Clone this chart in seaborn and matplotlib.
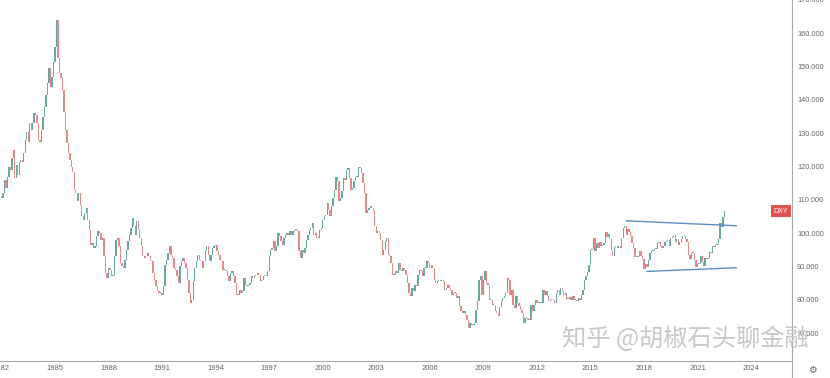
import numpy as np
import pandas as pd
import matplotlib
matplotlib.use("Agg")
import matplotlib.pyplot as plt
import matplotlib.transforms as mtransforms
from matplotlib.lines import Line2D
import seaborn as sns

# ---------------- data (monthly closes of the US Dollar Index) ----------------
start_year = 1982
dxy_close = [
    110.5, 112, 116, 113.5, 117, 120, 119, 122.5, 125, 116.5, 120.5, 117.5,      # 1982
    121, 122, 121.5, 124, 128, 130.5, 127.5, 133, 131, 133, 136, 135.5,          # 1983
    133, 128, 127.5, 131, 135, 138, 141.5, 145, 149.5, 144, 147, 151.5,          # 1984
    156, 164, 152.5, 148, 146.5, 143, 136.5, 131, 127, 124, 122, 120,            # 1985
    118.5, 113, 112, 109.5, 112, 108.5, 105, 104, 106, 107.5, 104, 101,          # 1986
    96.5, 97, 95.5, 96, 99, 100.5, 100, 98, 98.5, 93, 88, 86.5,                  # 1987
    89.5, 89, 87, 87.5, 93, 98, 98.5, 96, 91, 90, 89.5, 92,                      # 1988
    95, 97.5, 99.5, 101.5, 104.5, 102, 99.5, 103.5, 101, 98.5, 96, 93,           # 1989
    92.5, 93, 94, 93, 92, 91.5, 88, 86, 84, 82.5, 82, 82,                        # 1990
    81.5, 84, 90.5, 92, 94, 96, 93.5, 92.5, 89.5, 89, 87, 85,                    # 1991
    90, 91.5, 92.5, 91, 89.5, 86, 82, 79, 80, 85.5, 89.5, 91.5,                  # 1992
    93.5, 92, 91.5, 89.5, 91.5, 94.5, 96, 93.5, 91.5, 93.5, 95.5, 96,            # 1993
    96.5, 94.5, 93.5, 92, 91.5, 89, 89, 88.5, 87, 85.5, 88, 88.5,                # 1994
    87, 85, 81.5, 81.5, 83, 82, 82.5, 86.5, 84.5, 84, 84.5, 85,                  # 1995
    87, 86.5, 87, 87.5, 88, 87.5, 85.5, 86, 87, 87.5, 87, 88.5,                  # 1996
    93, 95, 95.5, 97.5, 94.5, 96, 100, 99, 97.5, 96.5, 98.5, 99.5,               # 1997
    100, 99.5, 100.5, 99.5, 100.5, 101, 101, 100.5, 94.5, 92.5, 95, 94,          # 1998
    95.5, 98, 99.5, 101, 101.5, 103, 99.5, 100, 98.5, 98.5, 101, 101.5,          # 1999
    104, 105, 105.5, 109, 107, 105, 108, 110.5, 113, 117, 115.5, 109.5,          # 2000
    110.5, 112.5, 116.5, 116, 119, 119.5, 116.5, 113, 113.5, 115.5, 117, 117,    # 2001
    120, 119.5, 118, 115, 112, 106, 107, 107.5, 108, 107.5, 106.5, 102,          # 2002
    100, 100.5, 100, 98, 93.5, 95, 97.5, 98.5, 93.5, 93, 91, 87.5,               # 2003
    87.5, 88.5, 88, 91, 89, 88.5, 89.5, 89, 87.5, 85, 82, 81,                    # 2004
    83.5, 82.5, 84.5, 84, 87.5, 89, 88.5, 87, 89.5, 89.5, 91.5, 91,              # 2005
    89.5, 90.5, 89.5, 86, 85, 85.5, 85.5, 85.5, 86, 85.5, 83, 83.5,              # 2006
    84.5, 83.5, 83, 81.5, 82, 82, 80.5, 81, 78, 76.5, 76, 76.5,                  # 2007
    75.5, 74, 71.5, 73, 72.5, 72.5, 73, 77, 79.5, 86, 87, 81.5,                  # 2008
    86, 88.5, 85, 84.5, 80, 80, 78.5, 78.5, 76.5, 76, 75, 77.9,                  # 2009
    79.5, 80.5, 81, 82, 86.5, 86, 81.5, 83, 78.5, 77.5, 81, 79,                  # 2010
    78, 77, 76, 73, 74.5, 74.5, 74, 74, 78.5, 76.5, 78.5, 80,                    # 2011
    79, 79, 79, 79, 83, 81.5, 82.5, 81, 79.5, 80, 80, 79.8,                      # 2012
    79, 82, 83, 81.5, 83.5, 83, 81.5, 82, 80.2, 80.2, 80.7, 80,                  # 2013
    81.2, 80, 80, 79.5, 80.4, 79.8, 81.5, 82.8, 86, 87, 88.4, 90.3,              # 2014
    94.8, 95.3, 98.4, 94.6, 96.9, 95.5, 97.3, 96, 96.3, 97, 100.2, 98.7,         # 2015
    99.6, 98.2, 94.6, 93, 95.9, 96.1, 95.5, 96, 95.4, 98.5, 101.5, 102.2,        # 2016
    99.5, 101.1, 100.3, 99, 97, 95.6, 92.9, 92.7, 93.1, 94.5, 93, 92.1,          # 2017
    89.1, 90.6, 89.9, 91.8, 94, 94.5, 94.5, 95.1, 95.1, 97.1, 97.3, 96.2,        # 2018
    95.6, 96.2, 97.3, 97.5, 97.8, 96.1, 98.5, 98.9, 99.4, 97.4, 98.3, 96.4,      # 2019
    97.4, 98.1, 99, 99, 98.3, 97.4, 93.3, 92.1, 93.9, 94, 91.9, 89.9,            # 2020
    90.6, 90.9, 93.2, 91.3, 90, 92.4, 92.2, 92.6, 94.2, 94.1, 96, 95.7,          # 2021
    96.5, 96.7, 98.3, 103, 101.8, 104.7, 106.6,                                  # 2022
]

tick_years = list(range(1982, 2025, 3))
price_ticks = [70, 80, 90, 100, 110, 120, 130, 140, 150, 160, 170]

upper_line_x = [2017.0, 2023.19]
upper_line_y = [103.7, 102.2]
lower_line_x = [2018.15, 2023.19]
lower_line_y = [88.5, 89.6]

symbol = "DXY"
watermark = "知乎 @胡椒石头聊金融"

# ---------------- style ----------------
sns.set_theme(style="white")
plt.rcParams["font.family"] = ["Liberation Sans", "DejaVu Sans"]

UP = "#6aa89f"
DOWN = "#e58a8a"
AXIS = "#a8a8a8"
TXT = "#666666"
TREND = "#5a8ec6"

n = len(dxy_close)
df = pd.DataFrame({
    "t": start_year + np.arange(n) / 12.0,
    "open": [dxy_close[0]] + dxy_close[:-1],
    "close": dxy_close,
})
df["up"] = df["close"] >= df["open"]
df["bottom"] = df[["open", "close"]].min(axis=1)
df["height"] = (df["close"] - df["open"]).abs().clip(lower=0.3)

fig = plt.figure(figsize=(8.30, 3.78), dpi=100)
ax = fig.add_axes([0, 17 / 378, 792 / 830, 361 / 378])

ax.bar(df["t"], df["height"], bottom=df["bottom"], width=0.075,
       color=np.where(df["up"], UP, DOWN), linewidth=0)

sns.lineplot(x=upper_line_x, y=upper_line_y, ax=ax, color=TREND, lw=1.0)
sns.lineplot(x=lower_line_x, y=lower_line_y, ax=ax, color=TREND, lw=1.0)

ax.set_xlim(1981.92, 2026.29)
ax.set_ylim(61.6, 170.0)

ax.set_xticks(tick_years)
ax.set_xticklabels([str(y) for y in tick_years])
ax.yaxis.tick_right()
ax.set_yticks(price_ticks)
ax.set_yticklabels([f"{v:.3f}" for v in price_ticks])
ax.tick_params(axis="y", length=0, pad=3.6, labelsize=5.3, colors=TXT)
ax.tick_params(axis="x", length=0, pad=2.8, labelsize=5.5, colors=TXT)
ax.set_xlabel("")
ax.set_ylabel("")
ax.grid(False)

for s in ["top", "left"]:
    ax.spines[s].set_visible(False)
for s in ["right", "bottom"]:
    ax.spines[s].set_color(AXIS)
    ax.spines[s].set_linewidth(0.8)

# right scale line continues through the time-axis strip
fig.add_artist(Line2D([792 / 830, 792 / 830], [0, 17 / 378], color=AXIS, lw=0.8))

# last-price symbol tag
trans = mtransforms.blended_transform_factory(ax.transAxes, ax.transData)
ax.text(1 - 4 / 792, dxy_close[-1], symbol, transform=trans, ha="right", va="center",
        fontsize=5, color="white",
        bbox=dict(boxstyle="square,pad=0.4", fc="#e05252", ec="none"))

# settings icon
fig.text(812 / 830, 1 - 370 / 378, "\u2699", ha="center", va="center",
         fontsize=7, color=TXT, family="DejaVu Sans")

# watermark
fig.text(562 / 830, 1 - 339 / 378, watermark, ha="left", va="center",
         fontsize=17.5, color="#c8c8c8",
         family=["Noto Sans CJK SC", "DejaVu Sans"])

fig.savefig("out.png", dpi=100)
